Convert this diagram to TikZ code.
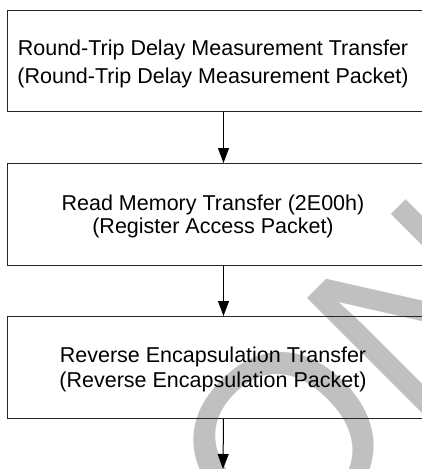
\documentclass[tikz,border=0pt]{standalone}
\usepackage{fontspec}
\setmainfont{Liberation Sans}
\usetikzlibrary{arrows.meta}
\definecolor{wmgray}{HTML}{C0C0C0}
\tikzset{
  flowbox/.style={draw=black!85, line width=1pt, anchor=north west, inner sep=0pt, minimum width=432pt},
  boxtext/.style={anchor=base, inner sep=0pt, font=\fontsize{21.5}{25}\selectfont},
  flowarrow/.style={draw=black, line width=1pt, -{Triangle[length=15pt,width=11pt]}},
  watermark/.style={anchor=base west, inner sep=0pt, text=wmgray, font=\fontsize{250}{250}\selectfont}
}
\begin{document}
\begin{tikzpicture}[x=1pt,y=-1pt]
\useasboundingbox (0,0) rectangle (422,469);
\clip (0,0) rectangle (422,469);
% watermark (behind the diagram)
\begin{scope}[shift={(149,700)}]
\node[watermark, rotate=45, transform shape] (wm) at (0,0) {CONFIDENTIAL};
\end{scope}
% boxes
\node[flowbox, minimum height=101pt] (b1) at (7,10) {};
\node[flowbox, minimum height=102pt] (b2) at (7,163) {};
\node[flowbox, minimum height=102pt] (b3) at (7,316) {};
% texts
\node[boxtext] (t1a) at (213,55) {Round-Trip Delay Measurement Transfer};
\node[boxtext] (t1b) at (213,83) {(Round-Trip Delay Measurement Packet)};
\node[boxtext] (t2a) at (213,210) {Read Memory Transfer (2E00h)};
\node[boxtext] (t2b) at (213,233) {(Register Access Packet)};
\node[boxtext] (t3a) at (213,362.5) {Reverse Encapsulation Transfer};
\node[boxtext] (t3b) at (213,387.5) {(Reverse Encapsulation Packet)};
% arrows
\coordinate (end) at (223,469);
\draw[flowarrow] (b1.south) -- (b2.north);
\draw[flowarrow] (b2.south) -- (b3.north);
\draw[flowarrow] (b3.south) -- (end);
\end{tikzpicture}
\end{document}
